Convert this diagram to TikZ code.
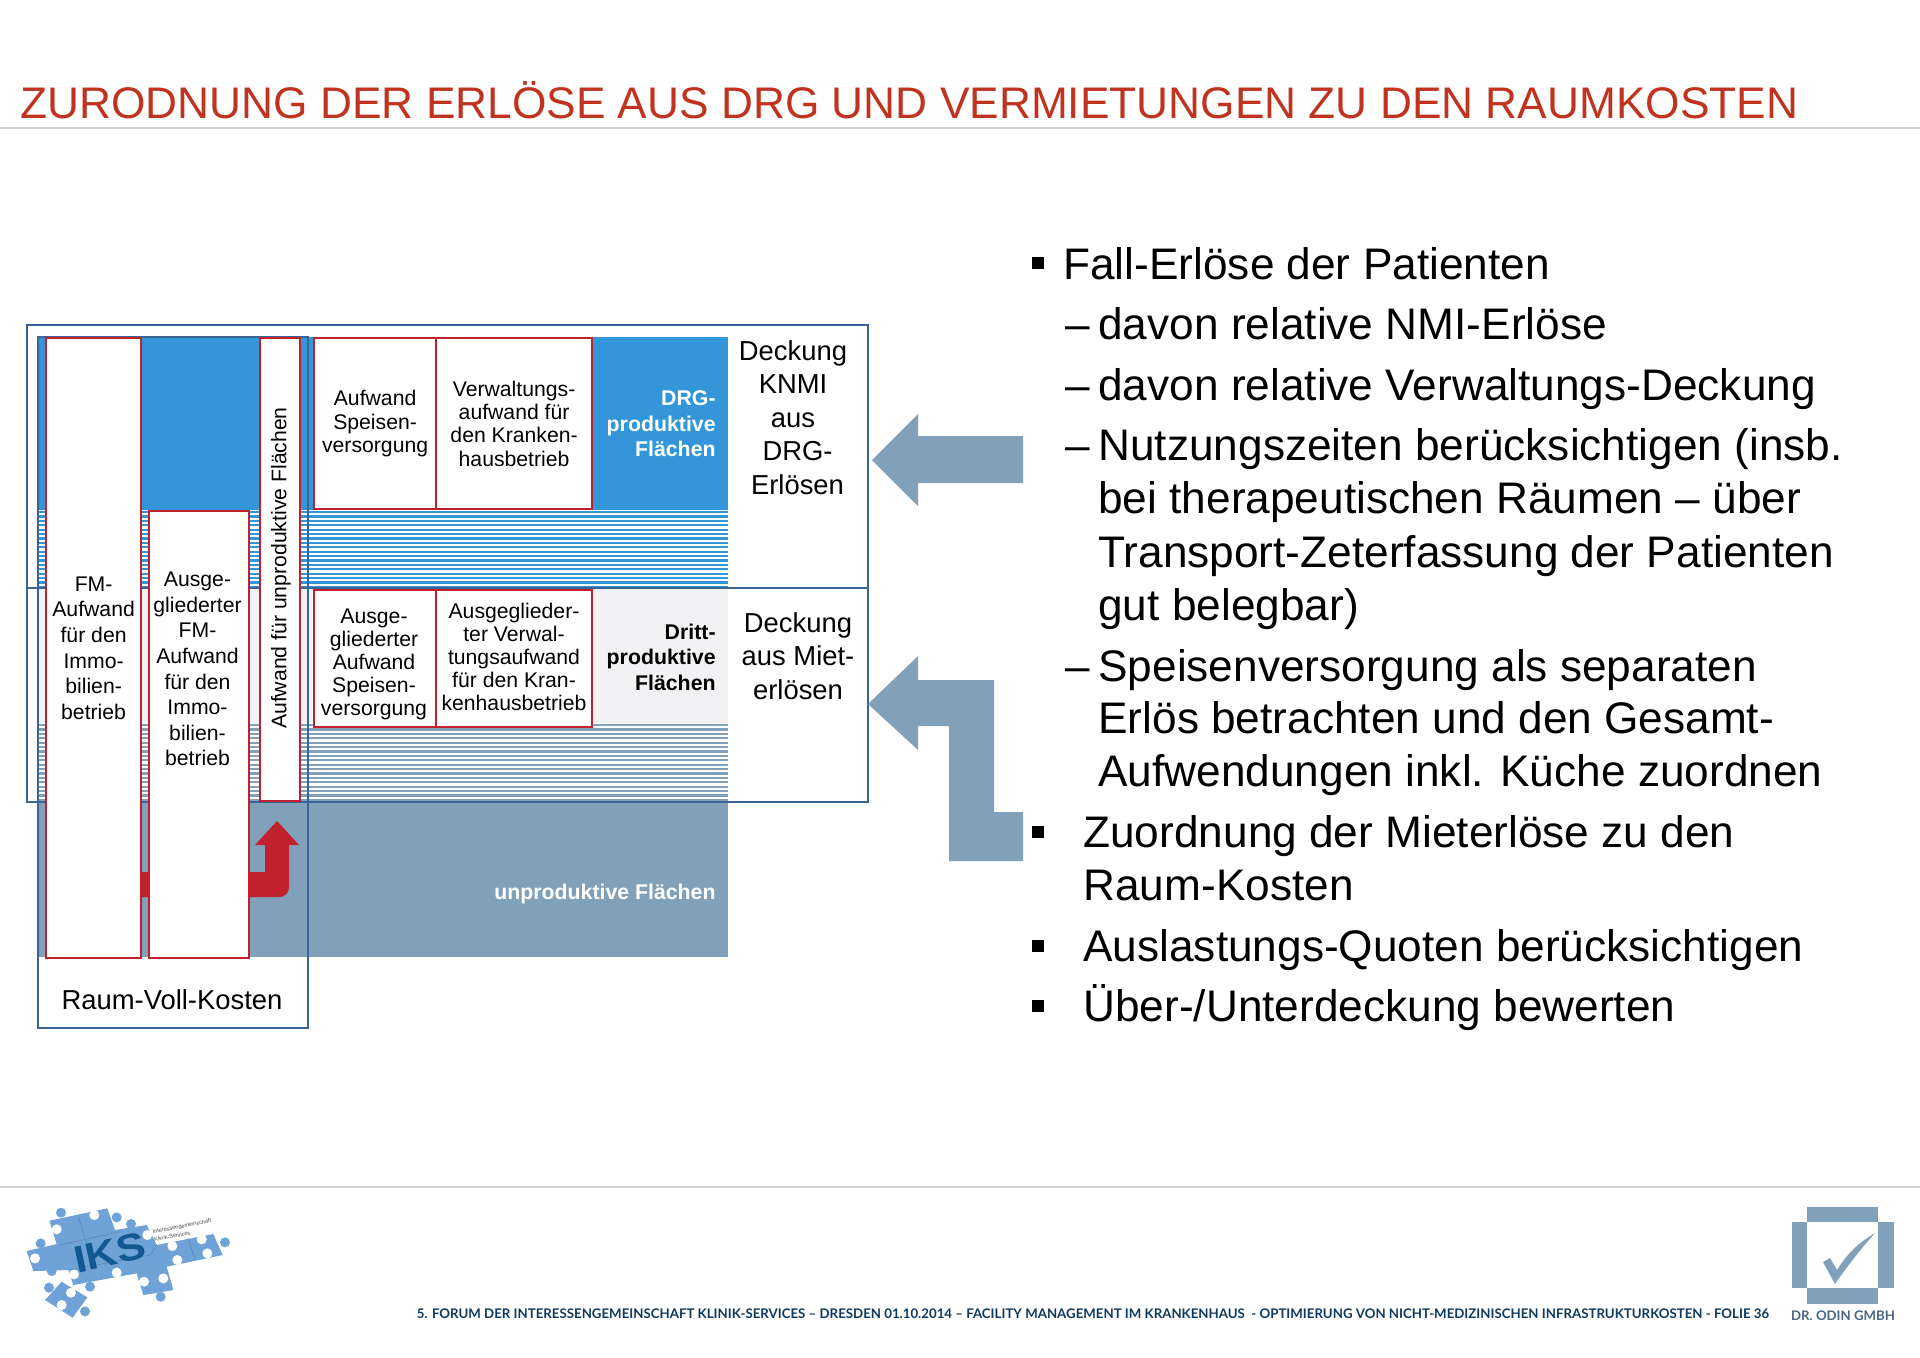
\documentclass[tikz,border=0pt]{standalone}
\usepackage{fontspec}
\setmainfont{Liberation Sans}
\newfontfamily\footfont{Lato}
\newfontfamily\iksfont[FakeStretch=1.15]{Liberation Sans Bold}
\usepackage{xcolor}
\usetikzlibrary{positioning,calc}
\definecolor{titlered}{HTML}{C0341F}
\definecolor{framing}{HTML}{3B6496}
\definecolor{drgblue}{HTML}{3296D8}
\definecolor{thirdgray}{HTML}{F2F2F4}
\definecolor{steel}{HTML}{81A0BA}
\definecolor{costred}{HTML}{C1202D}
\definecolor{puzzle}{HTML}{6FA3D8}
\definecolor{iksblue}{HTML}{135892}
\definecolor{footnavy}{HTML}{0F3A5F}
\definecolor{odingray}{HTML}{4A6585}
\tikzset{
  rulerline/.style={draw=black!18,line width=0.7pt},
  frameline/.style={draw=framing,line width=1.45pt},
  costbox/.style={draw=costred,line width=1.1pt,fill=white,align=center,anchor=north west,inner sep=0pt,font=\fontsize{10.6}{11.7}\selectfont},
  wideleading/.style={font=\fontsize{10.6}{12.8}\selectfont},
  costtext/.style={align=center,inner sep=0pt,font=\fontsize{10.6}{12.8}\selectfont},
  arealabel/.style={align=right,anchor=east,inner sep=0pt,font=\fontsize{10.65}{12.8}\selectfont\bfseries},
  coverlabel/.style={align=center,inner sep=0pt,font=\fontsize{13.7}{16.8}\selectfont},
  listline/.style={anchor=base west,inner sep=0pt,font=\fontsize{22.1}{26.5}\selectfont},
  listmark/.style={fill=black,inner sep=0pt,minimum size=6pt},
  stripeblue/.style={draw=drgblue,line width=1.1pt},
  stripesteel/.style={draw=steel,line width=1.1pt},
  blockarrow/.style={fill=steel},
  puzzleseam/.style={draw=puzzle!82!black,line width=0.3pt}
}
\begin{document}
\begin{tikzpicture}[x=0.5pt,y=-0.5pt]
  \useasboundingbox (0,0) rectangle (1920,1357);
  % title and rules
  \node[anchor=base west,inner sep=0pt,text=titlered,font=\fontsize{22.13}{26}\selectfont] (title) at (20,118) {ZURODNUNG DER ERLÖSE AUS DRG UND VERMIETUNGEN ZU DEN RAUMKOSTEN};
  \draw[rulerline] (0,128) -- (1920,128);
  \draw[rulerline] (0,1187) -- (1920,1187);
  % area bands
  \fill[drgblue] (38,337) rectangle (728,510);
  \fill[thirdgray] (38,588) rectangle (728,723);
  \fill[steel] (38,802) rectangle (728,957);
  \foreach \y in {0,...,17} {
    \draw[stripeblue] (38,512+\y*4.4) -- (728,512+\y*4.4);
    \draw[stripesteel] (38,725+\y*4.4) -- (728,725+\y*4.4);
  }
  % frames
  \draw[frameline] (27,325) rectangle (868,802);
  \draw[frameline] (27,588) -- (868,588);
  \draw[frameline] (38,337) rectangle (308,1028);
  % red arrow
  \fill[costred] (100,897) -- (279,897) .. controls (285,897) and (289,893) .. (289,887) -- (289,845) -- (299,845) -- (277,821) -- (255,845) -- (265,845) -- (265,872) -- (100,872) -- cycle;
  % cost boxes
  \node[costbox,wideleading,minimum width=47.5pt,minimum height=310pt] (fmcost) at (45,337) {FM-\\Aufwand\\für den\\Immo-\\bilien-\\betrieb};
  \node[costbox,minimum width=50pt,minimum height=223.5pt] (ausgefm) at (148,510) {};
  \node[costtext] (ausgefmtext) at (197.5,669) {Ausge-\\gliederter\\FM-\\Aufwand\\für den\\Immo-\\bilien-\\betrieb};
  \node[costbox,minimum width=20pt,minimum height=231.5pt] (unprodcost) at (259,337) {};
  \node[rotate=90,inner sep=0pt,font=\fontsize{10.6}{12}\selectfont] (unprodtext) at (281,568) {Aufwand für unproduktive Flächen};
  \node[costbox,minimum width=61pt,minimum height=85.5pt] (speisen) at (313,337) {Aufwand\\Speisen-\\versorgung};
  \node[costbox,minimum width=78pt,minimum height=85.5pt] (verwaltung) at (435,337) {Verwaltungs-\\aufwand für\\den Kranken-\\hausbetrieb};
  \node[costbox,minimum width=61pt,minimum height=68.5pt] (ausgespeisen) at (313,589) {};
  \node[costtext,font=\fontsize{10.6}{11.5}\selectfont] (ausgespeisentext) at (374,664) {Ausge-\\gliederter\\Aufwand\\Speisen-\\versorgung};
  \node[costbox,minimum width=78pt,minimum height=68.5pt] (ausgeverw) at (435,589) {};
  \node[costtext,font=\fontsize{10.6}{11.5}\selectfont] (ausgeverwtext) at (514,657) {Ausgeglieder-\\ter Verwal-\\tungsaufwand\\für den Kran-\\kenhausbetrieb};
  % area labels
  \node[arealabel,text=white] (drgarea) at (716,424) {DRG-\\produktive\\Flächen};
  \node[arealabel] (drittarea) at (716,657) {Dritt-\\produktive\\Flächen};
  \node[arealabel,text=white] (unprodarea) at (716,894) {unproduktive Flächen};
  \node[coverlabel] (coverdrg) at (793,417.5) {Deckung\\KNMI\\aus\\\hspace*{4.5pt}DRG-\\\hspace*{4.5pt}Erlösen};
  \node[coverlabel] (covermiet) at (798,656) {Deckung\\aus Miet-\\erlösen};
  \node[coverlabel] (vollkosten) at (172,1000) {Raum-Voll-Kosten};
  % block arrows
  \fill[blockarrow] (872,460) -- (918,414) -- (918,436) -- (1023,436) -- (1023,483) -- (918,483) -- (918,506) -- cycle;
  \fill[blockarrow] (868,704) -- (918,656) -- (918,680) -- (994,680) -- (994,812) -- (1023,812) -- (1023,861) -- (949,861) -- (949,726) -- (918,726) -- (918,750) -- cycle;
  % list
  \node[listmark] (mark1) at (1038,263) {};
  \node[listline] (fall) at (1063,279) {Fall-Erlöse der Patienten};
  \node[listline] (dash1) at (1065,339) {–};
  \node[listline] (nmi) at (1098,339) {davon relative NMI-Erlöse};
  \node[listline] (dash2) at (1065,400) {–};
  \node[listline] (verw) at (1098,400) {davon relative Verwaltungs-Deckung};
  \node[listline] (dash3) at (1065,460) {–};
  \node[listline] (nutz1) at (1098,460) {Nutzungszeiten berücksichtigen (insb.};
  \node[listline] (nutz2) at (1098,513) {bei therapeutischen Räumen – über};
  \node[listline] (nutz3) at (1098,567) {Transport-Zeterfassung der Patienten};
  \node[listline] (nutz4) at (1098,620) {gut belegbar)};
  \node[listline] (dash4) at (1065,681) {–};
  \node[listline] (speis1) at (1098,681) {Speisenversorgung als separaten};
  \node[listline] (speis2) at (1098,733) {Erlös betrachten und den Gesamt-};
  \node[listline] (speis3) at (1098,786) {Aufwendungen inkl. Küche zuordnen};
  \node[listmark] (mark2) at (1038,832) {};
  \node[listline] (zuord1) at (1083,847) {Zuordnung der Mieterlöse zu den};
  \node[listline] (zuord2) at (1083,900) {Raum-Kosten};
  \node[listmark] (mark3) at (1038,946) {};
  \node[listline] (ausl) at (1083,961) {Auslastungs-Quoten berücksichtigen};
  \node[listmark] (mark4) at (1038,1006) {};
  \node[listline] (ueber) at (1083,1021) {Über-/Unterdeckung bewerten};
  % footer
  \node[anchor=base west,inner sep=0pt,text=footnavy,font=\footfont\fontsize{6.63}{8}\selectfont\bfseries] (footline) at (416.5,1318) {5. FORUM DER INTERESSENGEMEINSCHAFT KLINIK-SERVICES – DRESDEN 01.10.2014 – FACILITY MANAGEMENT IM KRANKENHAUS\ \ - OPTIMIERUNG VON NICHT-MEDIZINISCHEN INFRASTRUKTURKOSTEN - FOLIE 36};
  % odin logo
  \fill[steel] (1807,1207) rectangle (1878,1222);
  \fill[steel] (1807,1288) rectangle (1878,1304);
  \fill[steel] (1792,1222) rectangle (1807,1288);
  \fill[steel] (1878,1222) rectangle (1894,1288);
  \fill[steel] (1823,1262) -- (1830,1258) -- (1837,1270) .. controls (1848,1252) and (1860,1242) .. (1875,1233) .. controls (1860,1250) and (1848,1265) .. (1835,1284) -- cycle;
  \node[anchor=base,inner sep=0pt,text=odingray,font=\footfont\fontsize{6.6}{8}\selectfont\bfseries] (odinname) at (1843,1320) {DR. ODIN GMBH};
  % puzzle logo
  \begin{scope}[shift={(0,1170)},x=0.16667pt,y=-0.16667pt]
    \fill[puzzle] (148,152) -- (322,115) -- (345,180) -- (440,165) -- (470,225) -- (640,192) -- (668,255) -- (525,285) -- (500,290) -- (520,360) -- (430,375) -- (410,310) -- (220,345) -- (205,300) -- (100,303) -- (80,243) -- (170,222) -- cycle;
    \fill[puzzle] (135,390) -- (185,335) -- (262,382) -- (218,443) -- cycle;
    \foreach \cx/\cy in {183/128,350/142,393/162,122/220,155/303,270/350,482/380,675/217,147/353,255/424}
      \fill[puzzle] (\cx,\cy) circle (15);
    \foreach \cx/\cy in {283/135,170/178,105/265,442/195,517/228,532/270,605/208,622/250,350/308,222/313,432/335,490/325,213/368,185/405}
      \fill[white] (\cx,\cy) circle (15);
    \draw[puzzleseam] (235,140) -- (260,220) -- (285,300);
    \draw[puzzleseam] (180,225) -- (360,185);
    \draw[puzzleseam] (205,300) -- (450,255) -- (470,225);
    \draw[puzzleseam] (565,205) -- (585,270);
    \node[rotate=12,inner sep=0pt,text=iksblue,font=\iksfont\fontsize{19}{20}\selectfont] (iks) at (330,248) {IKS};
    \node[rotate=11,inner sep=0pt,align=left,text=black!70,font=\fontsize{2.8}{4}\selectfont] (ikstext) at (548,180) {Interessengemeinschaft\\Klinik-Services};
  \end{scope}
\end{tikzpicture}
\end{document}
